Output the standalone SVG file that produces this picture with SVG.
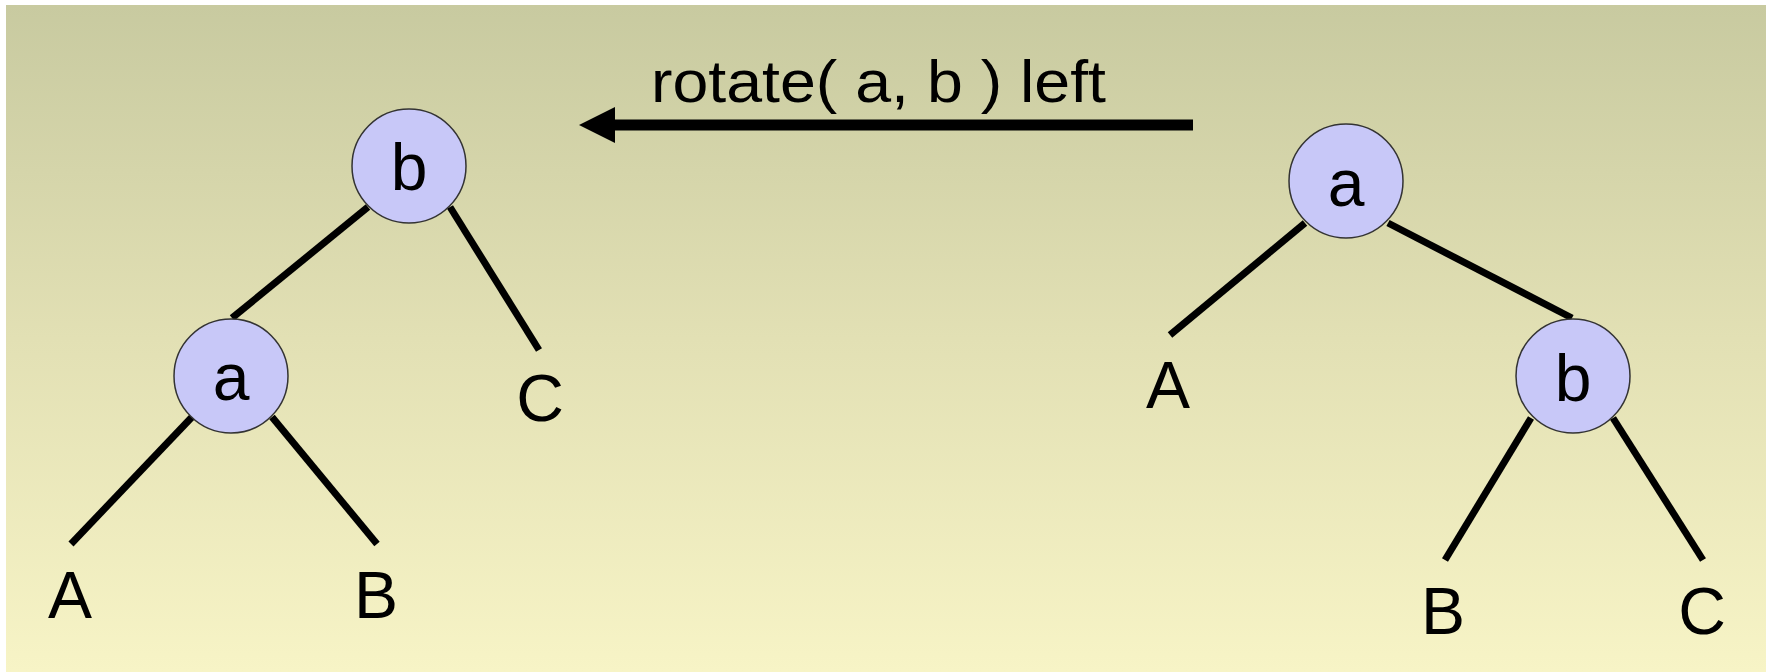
<svg xmlns="http://www.w3.org/2000/svg" width="1772" height="672" viewBox="0 0 1772 672">
<defs>
<linearGradient id="bg" x1="0" y1="0" x2="0" y2="1">
<stop offset="0" stop-color="#C8CAA0"/>
<stop offset="0.5" stop-color="#E2E0B4"/>
<stop offset="1" stop-color="#F7F4C6"/>
</linearGradient>
</defs>
<style>
.node{fill:#C8C8F8;stroke:#333;stroke-width:1.5}
.edge{stroke:#000;stroke-width:7;fill:none}
.lbl{font-family:"Liberation Sans",Arial,sans-serif;font-size:66px;fill:#000;text-anchor:middle}
.title{font-family:"Liberation Sans",Arial,sans-serif;font-size:60px;fill:#000}
</style>
<rect x="0" y="0" width="1772" height="672" fill="#fff"/>
<rect x="6" y="5" width="1760" height="667" fill="url(#bg)"/>
<g id="connectors">
<line class="edge" x1="368" y1="207" x2="232" y2="318"/>
<line class="edge" x1="450" y1="207" x2="539" y2="350"/>
<line class="edge" x1="192" y1="417" x2="71" y2="544"/>
<line class="edge" x1="272" y1="417" x2="377" y2="544"/>
<line class="edge" x1="1305" y1="223" x2="1170" y2="335"/>
<line class="edge" x1="1388" y1="223" x2="1572" y2="318"/>
<line class="edge" x1="1531" y1="418" x2="1445" y2="560"/>
<line class="edge" x1="1613" y1="418" x2="1703" y2="560"/>
<line x1="1193" y1="125" x2="614" y2="125" stroke="#000" stroke-width="11"/>
<path d="M579,125 L615,107 L615,143 Z" fill="#000"/>
</g>
<text class="title" x="651" y="102" textLength="455" lengthAdjust="spacingAndGlyphs">rotate( a, b ) left</text>
<g id="left-b"><circle class="node" cx="409" cy="166" r="57"/><text class="lbl" x="409" y="190">b</text></g>
<g id="left-a"><circle class="node" cx="231" cy="376" r="57"/><text class="lbl" x="231" y="400">a</text></g>
<g id="left-A"><text class="lbl" x="70" y="618">A</text></g>
<g id="left-B"><text class="lbl" x="376" y="618">B</text></g>
<g id="left-C"><text class="lbl" x="540" y="421">C</text></g>
<g id="right-a"><circle class="node" cx="1346" cy="181" r="57"/><text class="lbl" x="1346" y="206">a</text></g>
<g id="right-b"><circle class="node" cx="1573" cy="376" r="57"/><text class="lbl" x="1573" y="401">b</text></g>
<g id="right-A"><text class="lbl" x="1168" y="408">A</text></g>
<g id="right-B"><text class="lbl" x="1443" y="634">B</text></g>
<g id="right-C"><text class="lbl" x="1702" y="634">C</text></g>
</svg>
